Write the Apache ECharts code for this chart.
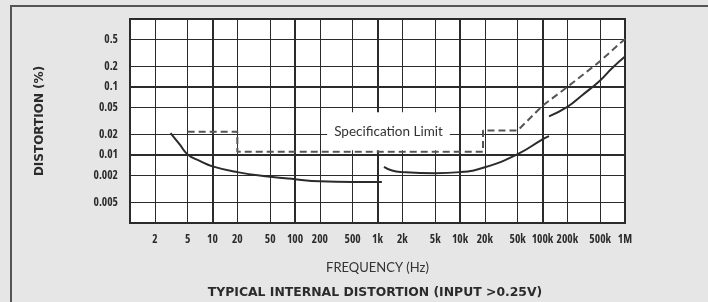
<!DOCTYPE html>
<html>
<head>
<meta charset="utf-8">
<script src="https://cdn.jsdelivr.net/npm/echarts@6/dist/echarts.min.js"></script>
<style>
html, body { margin: 0; padding: 0; background: #e6e6e6; }
#main { width: 708px; height: 302px; }
</style>
</head>
<body>
<div id="main"></div>
<script>
// tick positions and the text printed at them (the y labels are printed swapped in the original)
var xTickValues = [2, 5, 10, 20, 50, 100, 200, 500, 1e3, 2e3, 5e3, 1e4, 2e4, 5e4, 1e5, 2e5, 5e5, 1e6];
var xTickLabels = ['2', '5', '10', '20', '50', '100', '200', '500', '1k', '2k', '5k', '10k', '20k', '50k', '100k', '200k', '500k', '1M'];
var yTickValues = [0.5, 0.2, 0.1, 0.05, 0.02, 0.01, 0.005, 0.002];
var yTickLabels = ['0.5', '0.2', '0.1', '0.05', '0.02', '0.01', '0.002', '0.005'];

// distortion curves, [Hz, %]
var lowBand = [[3.1, 0.021], [4, 0.0143], [5, 0.0102], [7, 0.0082], [10, 0.0068], [20, 0.0056], [50, 0.0048], [100, 0.0044], [200, 0.0041], [500, 0.0040], [1130, 0.0040]];
var midBand = [[1200, 0.0067], [1500, 0.0059], [2000, 0.0056], [5000, 0.0054], [10000, 0.0056], [20000, 0.0066], [50000, 0.0103], [100000, 0.017], [120000, 0.019]];
var highBand = [[120000, 0.037], [200000, 0.051], [300000, 0.075], [500000, 0.125], [700000, 0.19], [1000000, 0.28]];
var specLimit = [[5, 0.022], [20, 0.022], [20, 0.0112], [19000, 0.0112], [19000, 0.023], [50000, 0.023], [100000, 0.053], [200000, 0.1], [500000, 0.24], [1000000, 0.51]];
var specLabelAt = [1360, 0.0223];

function pickLabel(vals, labels, v) {
    for (var i = 0; i < vals.length; i++) {
        if (Math.abs(vals[i] - v) <= vals[i] * 1e-6) return labels[i];
    }
    return '';
}

var ink = '#2b2b2b';
// condensed bold for the tick numbers
var tickFont = { fontStyle: 'condensed', fontWeight: 'bold', fontFamily: '"Open Sans"', fontSize: 11.5, color: ink };

var myChart = echarts.init(document.getElementById('main'));
var option = {
    backgroundColor: '#e6e6e6',
    animation: false,
    title: {
        text: 'TYPICAL INTERNAL DISTORTION (INPUT >0.25V)',
        left: 370,
        top: 282,
        textAlign: 'center',
        textStyle: { fontFamily: '"DejaVu Sans"', fontWeight: 'bold', fontSize: 12.4, color: ink }
    },
    graphic: [{
        type: 'rect',
        shape: { x: 11, y: 6, width: 760, height: 340 },
        style: { fill: 'none', stroke: '#555', lineWidth: 2 },
        silent: true
    }],
    grid: {
        left: 130, top: 19, right: 83, bottom: 79,
        show: true,
        backgroundColor: '#fff',
        borderColor: ink,
        borderWidth: 2
    },
    xAxis: [
        {
            type: 'log', min: 1, max: 1e6,
            name: 'FREQUENCY (Hz)',
            nameLocation: 'middle',
            nameGap: 38,
            nameTextStyle: { fontFamily: 'Lato', fontSize: 13, color: '#333' },
            axisLine: { show: false },
            axisTick: { show: false, customValues: xTickValues },
            axisLabel: Object.assign({
                customValues: xTickValues,
                margin: 11,
                formatter: function (v) { return pickLabel(xTickValues, xTickLabels, v); }
            }, tickFont),
            splitLine: { show: true, lineStyle: { color: ink, width: 1 } }
        },
        {
            type: 'log', min: 1, max: 1e6,
            axisLine: { show: false },
            axisTick: { show: false },
            axisLabel: { show: false },
            splitLine: { show: true, lineStyle: { color: ink, width: 2 } }
        }
    ],
    yAxis: [
        {
            type: 'log', min: 0.001, max: 1,
            name: 'DISTORTION (%)',
            nameLocation: 'middle',
            nameGap: 84,
            nameTextStyle: { fontFamily: '"DejaVu Sans"', fontWeight: 'bold', fontSize: 12, color: ink },
            axisLine: { show: false },
            axisTick: { show: false, customValues: yTickValues },
            axisLabel: Object.assign({
                customValues: yTickValues,
                margin: 12,
                formatter: function (v) { return pickLabel(yTickValues, yTickLabels, v); }
            }, tickFont),
            splitLine: { show: true, lineStyle: { color: ink, width: 1 } }
        },
        {
            type: 'log', min: 0.001, max: 1,
            axisLine: { show: false },
            axisTick: { show: false },
            axisLabel: { show: false },
            splitLine: { show: true, lineStyle: { color: ink, width: 2 } }
        }
    ],
    series: [
        {
            name: 'low', type: 'line', data: lowBand, smooth: true, showSymbol: false,
            lineStyle: { color: ink, width: 2 }
        },
        {
            name: 'mid', type: 'line', data: midBand, smooth: true, showSymbol: false,
            lineStyle: { color: ink, width: 2 }
        },
        {
            name: 'high', type: 'line', data: highBand, smooth: true, showSymbol: false,
            lineStyle: { color: ink, width: 2 }
        },
        {
            name: 'Specification Limit', type: 'line', data: specLimit, showSymbol: false,
            lineStyle: { color: '#555', width: 2, type: [7, 4] },
            markPoint: {
                symbol: 'rect', symbolSize: 1,
                itemStyle: { color: 'rgba(0,0,0,0)' },
                label: {
                    show: true, position: 'inside',
                    formatter: 'Specification Limit',
                    fontFamily: 'Lato', fontSize: 13.5, color: '#333',
                    backgroundColor: '#fff',
                    padding: [12, 7]
                },
                data: [{ coord: specLabelAt }]
            }
        }
    ]
};
myChart.setOption(option);
</script>
</body>
</html>
